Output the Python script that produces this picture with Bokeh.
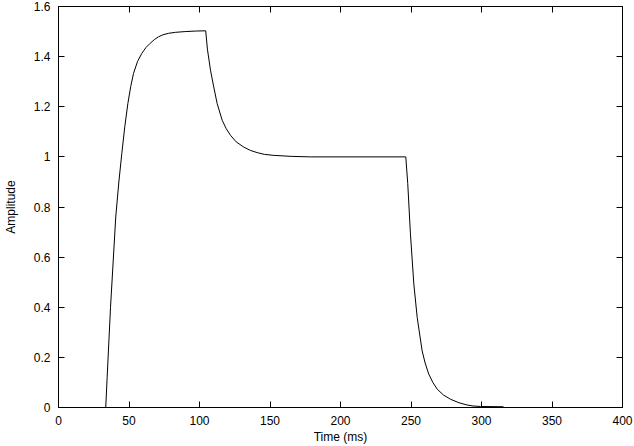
from bokeh.plotting import figure
from bokeh.models import LinearAxis, FixedTicker, Range1d, ColumnDataSource
from bokeh.embed import file_html
from bokeh.resources import INLINE

# Envelope
t_ms = [33.5, 34.5, 36.9, 40.6, 42.8, 44.9, 47.0, 49.2, 51.2, 53.2, 56.0, 59.1, 62.0, 65.0,
        68.0, 70.9, 74.0, 78.0, 83.0, 89.9, 97.0, 104.4,
        105.6, 107.8, 110.1, 112.5, 116.1, 119.0, 122.0, 126.0, 131.4, 136.0, 140.9, 146.0,
        152.7, 165.0, 178.7, 246.3,
        247.7, 249.6, 252.0, 254.4, 257.9, 260.0, 262.6, 265.5, 268.6, 273.0, 278.0, 284.0,
        289.8, 294.0, 299.3, 315.6]
amplitude = [0.0, 0.12, 0.40, 0.76, 0.90, 1.013, 1.12, 1.213, 1.28, 1.333, 1.38, 1.413, 1.436, 1.453,
             1.468, 1.479, 1.487, 1.493, 1.497, 1.500, 1.502, 1.503,
             1.43, 1.346, 1.279, 1.213, 1.146, 1.112, 1.086, 1.060, 1.039, 1.026, 1.017, 1.010,
             1.006, 1.002, 1.0, 1.0,
             0.893, 0.693, 0.493, 0.359, 0.226, 0.178, 0.133, 0.100, 0.073, 0.050, 0.033, 0.019,
             0.010, 0.006, 0.004, 0.003]

x_ticks = [0, 50, 100, 150, 200, 250, 300, 350, 400]
x_tick_labels = ["0", "50", "100", "150", "200", "250", "300", "350", "400"]
y_ticks = [0, 0.2, 0.4, 0.6, 0.8, 1.0, 1.2, 1.4, 1.6]
y_tick_labels = ["0", "0.2", "0.4", "0.6", "0.8", "1", "1.2", "1.4", "1.6"]

FONT = "Liberation Sans"
FS = "12px"

p = figure(width=634, height=446, output_backend="svg", toolbar_location=None,
           x_range=Range1d(0, 400), y_range=Range1d(0, 1.6),
           x_axis_label="Time (ms)", y_axis_label="Amplitude",
           min_border_left=58, min_border_right=12, min_border_top=6, min_border_bottom=39)
p.xgrid.visible = False
p.ygrid.visible = False
p.outline_line_color = "black"
p.outline_line_width = 1
p.background_fill_color = "white"
p.border_fill_color = "white"

src = ColumnDataSource(dict(t=t_ms, a=amplitude))
p.line("t", "a", source=src, line_color="black", line_width=1)

xo = dict(zip([float(v) for v in x_ticks], x_tick_labels))
yo = dict(zip([float(v) for v in y_ticks], y_tick_labels))

def style(ax, ticks, overrides=None, show_labels=True):
    ax.ticker = FixedTicker(ticks=ticks)
    ax.major_tick_in = 6
    ax.major_tick_out = 0
    ax.minor_tick_in = 0
    ax.minor_tick_out = 0
    ax.major_tick_line_color = "black"
    ax.axis_line_color = "black"
    ax.major_label_text_font = FONT
    ax.axis_label_text_font = FONT
    ax.axis_label_text_font_style = "normal"
    ax.axis_label_text_font_size = FS
    ax.axis_label_text_color = "black"
    if show_labels:
        ax.major_label_overrides = overrides
        ax.major_label_text_color = "black"
        ax.major_label_text_font_size = FS
        ax.major_label_standoff = 8
    else:
        ax.major_label_text_color = None
        ax.major_label_text_font_size = "0px"
        ax.major_label_standoff = 0

style(p.xaxis[0], x_ticks, xo)
p.xaxis[0].axis_label_standoff = 2
style(p.yaxis[0], y_ticks, yo)
p.yaxis[0].axis_label_standoff = 13

top = LinearAxis()
style(top, x_ticks, show_labels=False)
p.add_layout(top, "above")
right = LinearAxis()
style(right, y_ticks, show_labels=False)
p.add_layout(right, "right")

open("out.html", "w").write(file_html(p, INLINE))
